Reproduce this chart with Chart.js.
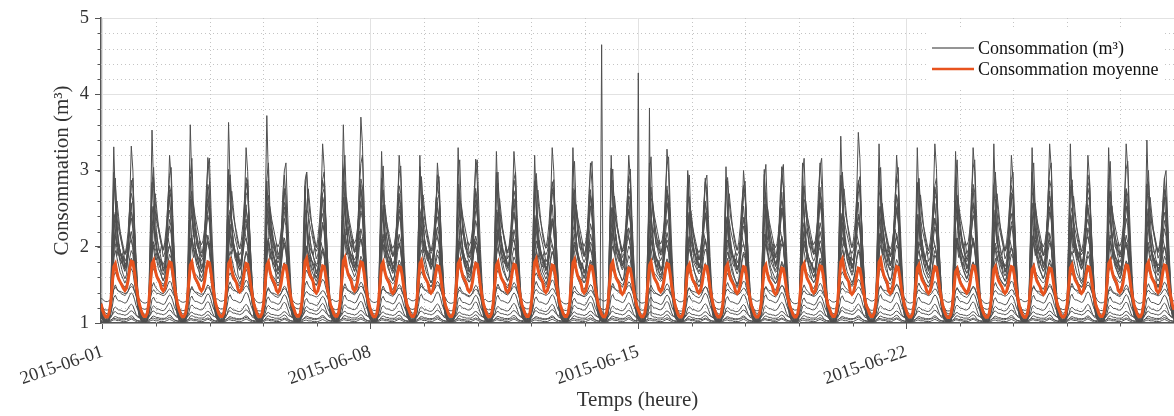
<!DOCTYPE html>
<html>
<head>
<meta charset="utf-8">
<script src="https://cdn.jsdelivr.net/npm/chart.js@4.4.0/dist/chart.umd.min.js"></script>
<style>
  html, body { margin: 0; padding: 0; background: #fff; }
  #wrap { width: 1174px; height: 416px; }
</style>
</head>
<body>
<div id="wrap"><canvas id="chart"></canvas></div>
<script>
// axes
const tickHours = [0, 168, 336, 504];
const tickLabels = ['2015-06-01', '2015-06-08', '2015-06-15', '2015-06-22'];
const minorHourStep = 33.6;   // 5 minor steps per week
const minorYStep = 0.2;
const legendLabels = ['Consommation (m³)', 'Consommation moyenne'];

// mean consumption: hourly shape (h0..h23) + daily peak levels
const meanProfile = [1.17, 1.11, 1.08, 1.08, 1.12, 1.25, 1.50, 1.74, 1.78, 1.66, 1.58, 1.54,
                     1.50, 1.45, 1.42, 1.45, 1.55, 1.70, 1.80, 1.79, 1.66, 1.49, 1.36, 1.25];
const meanMorning = [1.78, 1.82, 1.80, 1.82, 1.80, 1.85, 1.86, 1.80, 1.82, 1.82, 1.80, 1.84, 1.83, 1.80,
                     1.80, 1.77, 1.77, 1.76, 1.78, 1.84, 1.84, 1.76, 1.71, 1.74, 1.74, 1.76, 1.82, 1.80];
const meanEvening = [1.81, 1.80, 1.80, 1.78, 1.76, 1.75, 1.80, 1.74, 1.75, 1.78, 1.77, 1.76, 1.75, 1.72,
                     1.78, 1.75, 1.74, 1.72, 1.75, 1.72, 1.74, 1.74, 1.75, 1.74, 1.72, 1.74, 1.76, 1.76];

// biggest household: daily morning / evening peaks
const topMorning = [3.31, 3.53, 3.60, 3.63, 3.72, 2.80, 3.60, 3.25, 3.20, 3.30, 3.25, 3.20, 3.30, 3.20,
                    3.10, 3.00, 3.05, 2.95, 3.10, 3.45, 3.35, 3.30, 3.25, 3.35, 3.30, 3.35, 3.30, 3.40];
const topEvening = [3.32, 3.20, 3.17, 3.30, 2.94, 3.35, 3.70, 3.20, 3.10, 3.15, 3.25, 3.30, 3.10, 3.20,
                    3.28, 2.90, 3.00, 3.05, 3.10, 3.50, 3.20, 3.35, 3.30, 3.20, 3.35, 3.20, 3.35, 2.90];

// one-hour spikes of a single meter
const spikeHours = [313, 336, 343];
const spikeValues = [4.65, 4.28, 3.82];

// day-to-day activity levels
const levelsA = [1.00, 1.06, 0.96, 1.08, 0.93, 1.10, 1.03, 0.97, 1.05, 0.95, 1.02, 1.09, 0.97, 1.04,
                 0.99, 0.92, 1.06, 0.95, 1.00, 1.10, 0.98, 1.05, 0.93, 1.06, 0.98, 1.04, 0.96, 1.03];
const levelsB = [0.95, 1.02, 1.08, 0.94, 1.05, 0.99, 1.10, 1.03, 0.96, 1.07, 0.99, 0.94, 1.06, 1.01,
                 1.09, 0.97, 0.93, 1.04, 1.08, 0.96, 1.02, 0.95, 1.07, 0.99, 1.05, 0.94, 1.06, 1.00];
const levelsC = [1.04, 0.97, 1.01, 1.06, 0.98, 0.92, 1.05, 1.00, 1.08, 0.96, 1.04, 0.98, 0.93, 1.07,
                 0.97, 1.03, 0.99, 1.06, 0.94, 1.02, 1.07, 0.97, 1.01, 0.95, 1.04, 1.08, 0.98, 0.96];

// hourly shapes of the individual meters
const heavy1 = [1.05, 1.03, 1.02, 1.02, 1.05, 1.30, 2.20, 3.30, 2.60, 2.10, 1.90, 1.80, 1.70, 1.60, 1.55, 1.60, 1.90, 2.50, 3.20, 2.90, 2.20, 1.70, 1.35, 1.15];
const heavy2 = [1.08, 1.05, 1.03, 1.03, 1.04, 1.15, 1.70, 2.80, 3.00, 2.40, 2.10, 2.00, 1.90, 1.80, 1.75, 1.80, 2.10, 2.60, 2.90, 3.00, 2.40, 1.90, 1.50, 1.20];
const heavy3 = [1.04, 1.02, 1.02, 1.02, 1.03, 1.20, 2.00, 2.90, 2.50, 2.20, 2.00, 1.90, 1.80, 1.70, 1.65, 1.70, 2.00, 2.40, 2.80, 2.70, 2.10, 1.60, 1.30, 1.12];
const heavy4 = [1.10, 1.06, 1.04, 1.04, 1.06, 1.30, 2.10, 2.70, 2.80, 2.50, 2.30, 2.20, 2.10, 2.00, 1.90, 2.00, 2.20, 2.50, 2.70, 2.60, 2.20, 1.80, 1.45, 1.20];
const medium1 = [1.06, 1.03, 1.02, 1.02, 1.04, 1.20, 1.70, 2.30, 2.40, 2.20, 2.00, 1.90, 1.85, 1.80, 1.70, 1.75, 1.90, 2.20, 2.40, 2.30, 1.90, 1.55, 1.30, 1.12];
const medium2 = [1.10, 1.06, 1.05, 1.05, 1.08, 1.20, 1.60, 2.10, 2.20, 2.00, 1.90, 1.85, 1.80, 1.75, 1.70, 1.72, 1.85, 2.05, 2.20, 2.10, 1.80, 1.50, 1.30, 1.15];
const medium3 = [1.05, 1.03, 1.02, 1.02, 1.03, 1.15, 1.50, 1.90, 2.00, 1.90, 1.80, 1.70, 1.65, 1.60, 1.55, 1.60, 1.70, 1.90, 2.00, 1.95, 1.70, 1.45, 1.25, 1.10];
const medium4 = [1.12, 1.08, 1.06, 1.06, 1.08, 1.20, 1.55, 1.95, 2.10, 2.00, 1.95, 1.90, 1.85, 1.80, 1.75, 1.75, 1.85, 2.00, 2.05, 1.95, 1.70, 1.50, 1.30, 1.18];
const medium5 = [1.04, 1.02, 1.02, 1.01, 1.02, 1.10, 1.40, 1.70, 1.80, 1.70, 1.60, 1.55, 1.50, 1.48, 1.45, 1.50, 1.60, 1.75, 1.85, 1.80, 1.60, 1.40, 1.20, 1.08];
const medium6 = [1.08, 1.05, 1.04, 1.04, 1.05, 1.15, 1.40, 1.65, 1.70, 1.65, 1.60, 1.58, 1.55, 1.52, 1.50, 1.52, 1.60, 1.70, 1.75, 1.70, 1.55, 1.40, 1.25, 1.12];
const medium7 = [1.15, 1.10, 1.08, 1.08, 1.10, 1.25, 1.65, 2.20, 2.50, 2.45, 2.30, 2.20, 2.10, 2.00, 1.95, 2.00, 2.15, 2.35, 2.45, 2.30, 2.00, 1.70, 1.40, 1.22];
const medium8 = [1.05, 1.03, 1.03, 1.02, 1.04, 1.10, 1.35, 1.80, 2.30, 2.60, 2.40, 2.20, 2.05, 1.95, 1.90, 1.92, 2.05, 2.30, 2.55, 2.60, 2.25, 1.75, 1.35, 1.12];
const medium9 = [1.20, 1.15, 1.12, 1.12, 1.14, 1.30, 1.80, 2.10, 2.00, 1.85, 1.95, 1.80, 1.75, 1.85, 1.70, 1.78, 1.95, 2.15, 2.05, 1.95, 1.75, 1.55, 1.38, 1.26];
const medium10 = [1.07, 1.04, 1.03, 1.03, 1.05, 1.18, 1.60, 2.50, 2.30, 2.05, 2.15, 1.95, 1.90, 2.00, 1.85, 1.90, 2.05, 2.45, 2.65, 2.35, 1.95, 1.60, 1.32, 1.14];
const low1 = [1.20, 1.18, 1.17, 1.17, 1.18, 1.20, 1.30, 1.45, 1.50, 1.45, 1.42, 1.40, 1.38, 1.37, 1.36, 1.38, 1.42, 1.48, 1.52, 1.50, 1.42, 1.35, 1.28, 1.22];
const low2 = [1.12, 1.10, 1.10, 1.10, 1.10, 1.12, 1.20, 1.32, 1.35, 1.30, 1.28, 1.28, 1.27, 1.26, 1.25, 1.26, 1.30, 1.35, 1.38, 1.36, 1.30, 1.22, 1.17, 1.14];
const low3 = [1.06, 1.05, 1.05, 1.05, 1.05, 1.07, 1.12, 1.20, 1.22, 1.20, 1.18, 1.18, 1.17, 1.16, 1.16, 1.17, 1.20, 1.24, 1.26, 1.24, 1.18, 1.12, 1.08, 1.07];
const low4 = [1.30, 1.28, 1.27, 1.27, 1.28, 1.30, 1.35, 1.42, 1.45, 1.42, 1.40, 1.40, 1.39, 1.38, 1.37, 1.38, 1.40, 1.44, 1.46, 1.45, 1.40, 1.36, 1.33, 1.31];
const flat1 = [1.02, 1.02, 1.01, 1.01, 1.02, 1.03, 1.05, 1.08, 1.09, 1.08, 1.07, 1.07, 1.06, 1.06, 1.06, 1.06, 1.07, 1.09, 1.10, 1.09, 1.06, 1.04, 1.03, 1.02];
const flat2 = [1.03, 1.03, 1.03, 1.03, 1.03, 1.04, 1.05, 1.06, 1.06, 1.05, 1.05, 1.05, 1.04, 1.04, 1.04, 1.05, 1.05, 1.06, 1.07, 1.06, 1.05, 1.04, 1.03, 1.03];
const flat3 = [1.01, 1.01, 1.01, 1.01, 1.01, 1.02, 1.03, 1.04, 1.04, 1.03, 1.03, 1.03, 1.02, 1.02, 1.02, 1.02, 1.03, 1.04, 1.05, 1.04, 1.03, 1.02, 1.01, 1.01];
const flat4 = [1.08, 1.07, 1.07, 1.07, 1.07, 1.08, 1.10, 1.14, 1.15, 1.13, 1.12, 1.12, 1.11, 1.11, 1.10, 1.11, 1.12, 1.15, 1.16, 1.15, 1.12, 1.10, 1.09, 1.08];

const GRAY = '#4f4f4f';
const ORANGE = '#E8531E';
const SERIF = "'Liberation Serif', 'Times New Roman', serif";

function dayOf(t) { return Math.min(27, Math.max(0, Math.floor(t / 24))); }

function levelSeries(profile, levels) {
  const pts = [];
  for (let t = -1; t <= 672; t++) {
    const h = (t + 24) % 24;
    pts.push({ x: t, y: 1 + (profile[h] - 1) * levels[dayOf(t)] });
  }
  return pts;
}

function peakSeries(profile, morning, evening) {
  const mMax = Math.max(...profile.slice(0, 13));
  const eMax = Math.max(...profile.slice(13));
  const pts = [];
  for (let t = -1; t <= 672; t++) {
    const h = (t + 24) % 24;
    const d = dayOf(t);
    const k = h < 13 ? (morning[d] - 1) / (mMax - 1) : (evening[d] - 1) / (eMax - 1);
    pts.push({ x: t, y: 1 + (profile[h] - 1) * k });
  }
  return pts;
}

const spiky = levelSeries(flat1, levelsB);
spikeHours.forEach((hr, i) => { spiky[hr + 1].y = spikeValues[i]; });

const grayData = [
  peakSeries(heavy1, topMorning, topEvening),
  levelSeries(heavy2, levelsB),
  levelSeries(heavy3, levelsC),
  levelSeries(heavy4, levelsA),
  levelSeries(medium1, levelsC),
  levelSeries(medium2, levelsA),
  levelSeries(medium3, levelsB),
  levelSeries(medium4, levelsC),
  levelSeries(medium5, levelsA),
  levelSeries(medium6, levelsB),
  levelSeries(medium7, levelsB),
  levelSeries(medium8, levelsA),
  levelSeries(medium9, levelsC),
  levelSeries(medium10, levelsB),
  levelSeries(low1, levelsA),
  levelSeries(low2, levelsC),
  levelSeries(low3, levelsB),
  levelSeries(low4, levelsC),
  spiky,
  levelSeries(flat2, levelsA),
  levelSeries(flat3, levelsC),
  levelSeries(flat4, levelsA)
];
const meanData = peakSeries(meanProfile, meanMorning, meanEvening);

const datasets = [{
  label: legendLabels[1], data: meanData, borderColor: ORANGE, borderWidth: 3
}];
grayData.forEach(d => datasets.push({ label: legendLabels[0], data: d, borderColor: GRAY, borderWidth: 1 }));

// dotted minor grid + minor tick marks
const minorGrid = {
  id: 'minorGrid',
  beforeDatasetsDraw(chart) {
    const { ctx, chartArea: a, scales: { x, y } } = chart;
    ctx.save();
    ctx.strokeStyle = '#c4c4c4';
    ctx.lineWidth = 1;
    ctx.setLineDash([1, 3]);
    for (let v = minorHourStep; v < x.max; v += minorHourStep) {
      if (Math.abs(v / 168 - Math.round(v / 168)) < 1e-6) continue;
      const px = Math.round(x.getPixelForValue(v)) + 0.5;
      ctx.beginPath(); ctx.moveTo(px, a.top); ctx.lineTo(px, a.bottom); ctx.stroke();
    }
    for (let k = 1; k < 20; k++) {
      if (k % 5 === 0) continue;
      const py = Math.round(y.getPixelForValue(1 + k * minorYStep)) + 0.5;
      ctx.beginPath(); ctx.moveTo(a.left, py); ctx.lineTo(a.right, py); ctx.stroke();
    }
    ctx.restore();
  },
  afterDraw(chart) {
    const { ctx, chartArea: a, scales: { x, y } } = chart;
    ctx.save();
    ctx.strokeStyle = '#555';
    ctx.lineWidth = 1;
    for (let v = minorHourStep; v < x.max; v += minorHourStep) {
      const px = Math.round(x.getPixelForValue(v)) + 0.5;
      ctx.beginPath(); ctx.moveTo(px, a.bottom); ctx.lineTo(px, a.bottom + 3.5); ctx.stroke();
    }
    for (let k = 1; k < 20; k++) {
      const py = Math.round(y.getPixelForValue(1 + k * minorYStep)) + 0.5;
      ctx.beginPath(); ctx.moveTo(a.left, py); ctx.lineTo(a.left - 3.5, py); ctx.stroke();
    }
    ctx.restore();
  }
};

// legend box in the upper right corner
const boxLegend = {
  id: 'boxLegend',
  afterDraw(chart) {
    const { ctx, chartArea: a } = chart;
    const right = a.right - 11, top = a.top + 11, w = 236, h = 60;
    const left = right - w;
    ctx.save();
    ctx.fillStyle = '#fff';
    ctx.fillRect(left, top, w, h);
    const rows = [{ color: '#2a2a2a', width: 1 }, { color: ORANGE, width: 2.5 }];
    ctx.font = '18px ' + SERIF;
    ctx.textBaseline = 'middle';
    rows.forEach((r, i) => {
      const cy = top + 19 + i * 21;
      ctx.strokeStyle = r.color;
      ctx.lineWidth = r.width;
      ctx.beginPath(); ctx.moveTo(left + 5, cy); ctx.lineTo(left + 47, cy); ctx.stroke();
      ctx.fillStyle = '#111';
      ctx.fillText(legendLabels[i], left + 51, cy + 1);
    });
    ctx.restore();
  }
};

new Chart(document.getElementById('chart'), {
  type: 'line',
  data: { datasets: datasets },
  options: {
    responsive: true,
    maintainAspectRatio: false,
    animation: false,
    parsing: false,
    normalized: true,
    layout: { padding: { top: 18, right: 0, left: 0, bottom: 0 } },
    elements: { point: { radius: 0 }, line: { tension: 0 } },
    plugins: { legend: { display: false }, tooltip: { enabled: false } },
    scales: {
      x: {
        type: 'linear',
        min: -1,
        max: 672,
        afterBuildTicks: (scale) => { scale.ticks = tickHours.map(v => ({ value: v })); },
        afterFit: (scale) => { scale.height = 93; },
        grid: { color: '#e2e2e2', lineWidth: 1, tickColor: '#555', tickLength: 6 },
        border: { display: true, color: '#555', width: 1.5 },
        ticks: {
          autoSkip: false,
          minRotation: 19,
          maxRotation: 19,
          padding: 12,
          color: '#333',
          font: { family: SERIF, size: 18.5 },
          callback: (v) => tickLabels[tickHours.indexOf(v)]
        },
        title: {
          display: true,
          text: 'Temps (heure)',
          color: '#333',
          font: { family: SERIF, size: 21 },
          padding: { top: 0, bottom: 3 }
        }
      },
      y: {
        min: 1,
        max: 5,
        afterFit: (scale) => { scale.width = 101; },
        grid: { color: '#e2e2e2', lineWidth: 1, tickColor: '#555', tickLength: 6 },
        border: { display: true, color: '#555', width: 1.5 },
        ticks: {
          stepSize: 1,
          padding: 6,
          color: '#333',
          font: { family: SERIF, size: 18.5 }
        },
        title: {
          display: true,
          text: 'Consommation (m³)',
          color: '#333',
          font: { family: SERIF, size: 21 },
          padding: { top: 50, bottom: 0 }
        }
      }
    }
  },
  plugins: [minorGrid, boxLegend]
});
</script>
</body>
</html>
